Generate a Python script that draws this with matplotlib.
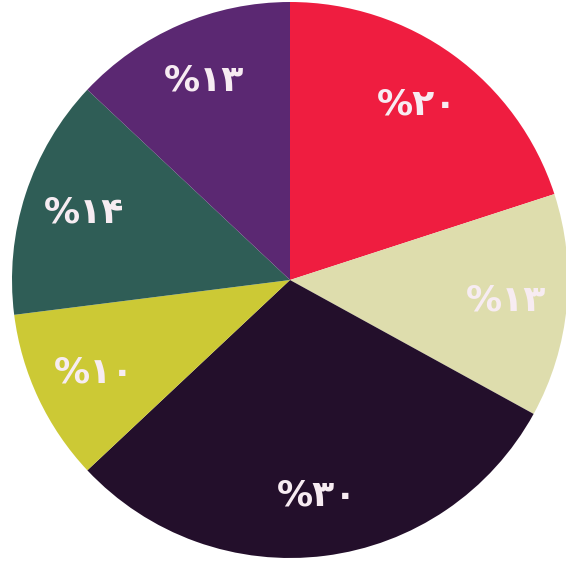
import matplotlib.pyplot as plt

# slice shares, clockwise from the top
values = [20, 13, 30, 10, 14, 13]
labels = ['%۲۰', '%۱۳', '%۳۰', '%۱۰', '%۱۴', '%۱۳']
colors = ['#EF1D40', '#DEDDAD', '#230F2B', '#CCC935', '#2F5D56', '#5B2872']

fig = plt.figure(figsize=(5.66, 5.61), dpi=100)
ax = fig.add_axes([0, 0, 1, 1])

wedges, texts = ax.pie(values, colors=colors, startangle=90, counterclock=False,
                       labels=labels, labeldistance=0.78,
                       textprops=dict(color='#F7ECF2', fontsize=26, fontweight='bold',
                                      family=['DejaVu Sans']))
for t in texts:
    t.set_ha('center')
    t.set_va('center')
ax.set_aspect('auto')
# one unit = 278 px, centre at (290, 280) from the top left
r = 278
ax.set_xlim(-290 / r, 276 / r)
ax.set_ylim(-281 / r, 280 / r)
ax.set_axis_off()

fig.savefig('out.png', dpi=100)
